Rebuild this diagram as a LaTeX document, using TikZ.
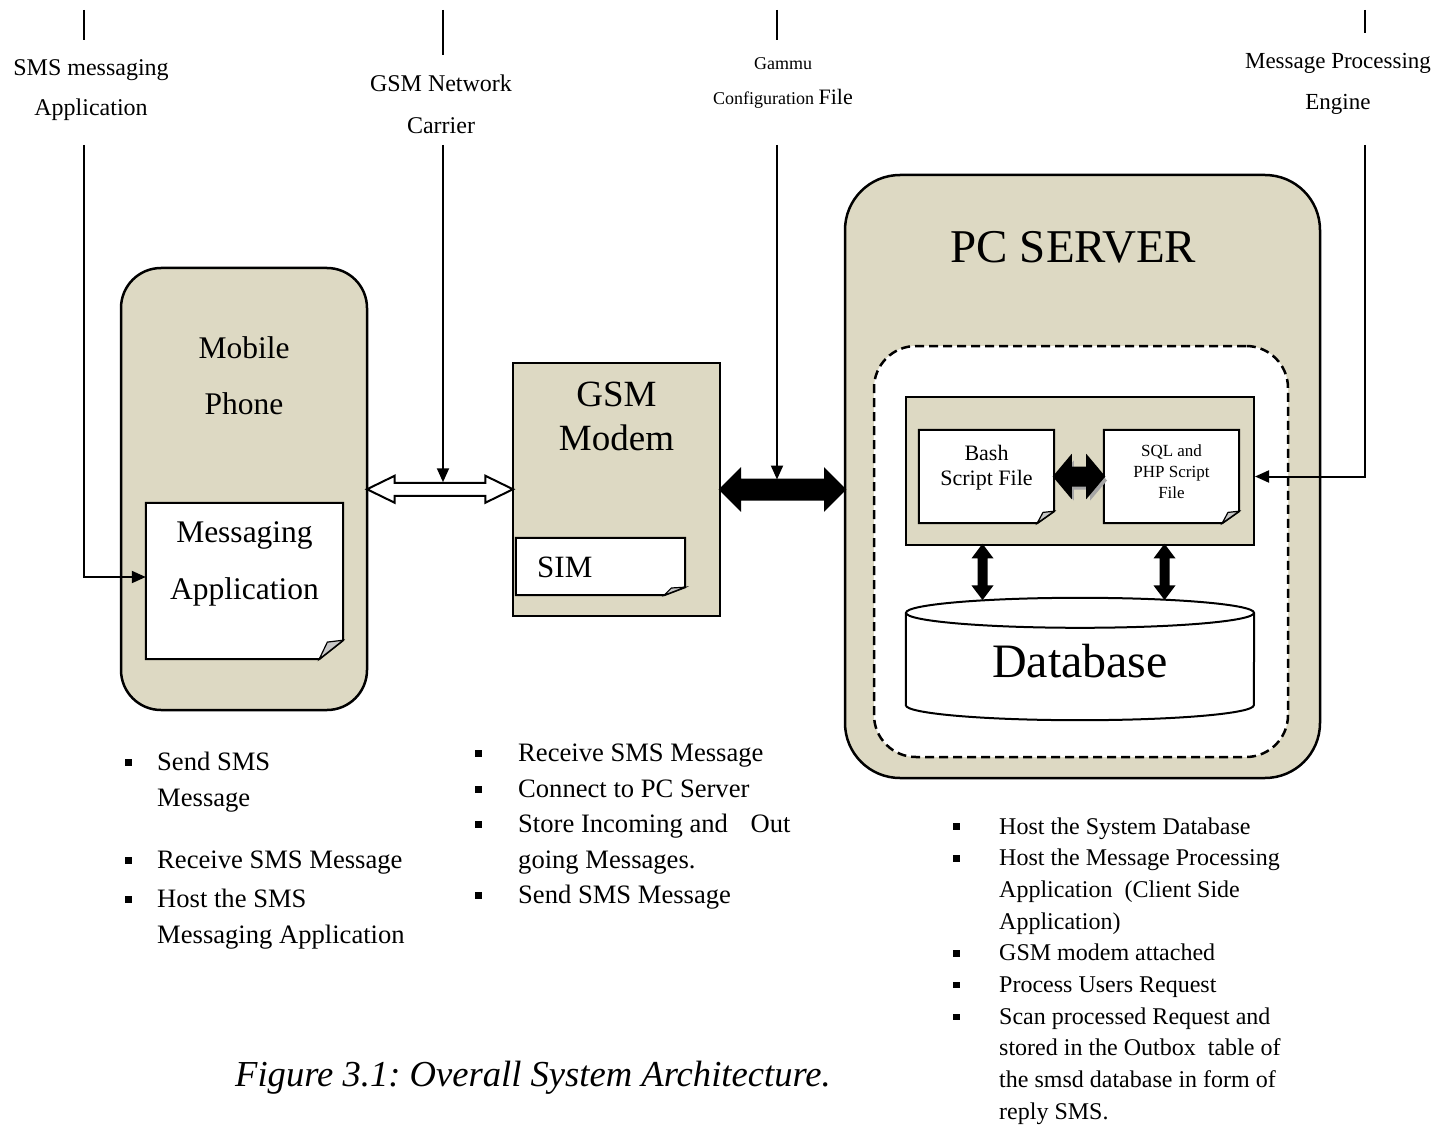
\documentclass[tikz,border=0pt]{standalone}
\usepackage{fontspec}
\setmainfont{Liberation Serif}
\usepackage{tikz}
\usetikzlibrary{positioning,calc,arrows.meta,shapes.arrows,shadows}

\definecolor{panel}{RGB}{221,217,195}
\definecolor{curlgray}{RGB}{200,200,200}
\newcommand{\fsz}[2]{\fontsize{#1}{#2}\selectfont}
\newcommand{\sqbul}{\rule[0.17em]{0.27em}{0.27em}}
\frenchspacing
%% page with a turned-up corner, drawn round an empty node
\newcommand{\pagecurl}[3]{%
    \filldraw[fill=white,line width=2pt] (#1.north west) -- (#1.north east)
        -- ($(#1.south east)+(0,-#3)$) -- ($(#1.south east)+(-#2,0)$)
        -- (#1.south west) -- cycle;
    \filldraw[fill=curlgray,line width=1.2pt] ($(#1.south east)+(-#2,0)$)
        -- ($(#1.south east)+(-0.66*#2,-0.9*#3)$) -- ($(#1.south east)+(0,-#3)$) -- cycle;}

\begin{document}
    \begin{tikzpicture}[x=1pt,y=-1pt,
        panelbox/.style={draw,fill=panel,line width=2.5pt},
        docbox/.style={inner sep=0pt},
        boxtext/.style={inner sep=0pt,align=center},
        feed/.style={line width=2pt},
        feedtip/.style={feed,-{Triangle[length=14pt,width=12pt]}},
        blocklink/.style={double arrow,draw,line width=2pt,inner xsep=0pt},
        bullets/.style={inner sep=0pt,anchor=base west}]
        \useasboundingbox (0,0) rectangle (1441,1126);

        %% the three machines
        \node[panelbox,rounded corners=40pt,minimum width=246pt,minimum height=442pt] (phone) at (244,489) {};
        \node[panelbox,minimum width=207pt,minimum height=253pt] (gsm) at (616.5,489.5) {};
        \node[panelbox,rounded corners=55pt,minimum width=475pt,minimum height=603pt] (server) at (1082.5,476.5) {};
        \node[draw,fill=white,dash pattern=on 9pt off 5pt,line width=2.5pt,rounded corners=42pt,
            minimum width=414pt,minimum height=411pt] (zone) at (1081,551.5) {};
        \node[panelbox,line width=2pt,minimum width=348pt,minimum height=148pt] (scripts) at (1080,471) {};

        \node[docbox,minimum width=197pt,minimum height=156pt] (msgdoc) at (244.5,581) {};
        \node[docbox,minimum width=169pt,minimum height=57pt] (simdoc) at (600.5,566.5) {};
        \node[docbox,minimum width=135pt,minimum height=93pt] (bashdoc) at (986.5,476.5) {};
        \node[docbox,minimum width=135pt,minimum height=93pt] (sqldoc) at (1171.5,476.5) {};
        \pagecurl{msgdoc}{24}{19}
        \pagecurl{simdoc}{21}{8}
        \pagecurl{bashdoc}{17}{12}
        \pagecurl{sqldoc}{17}{12}

        \node[docbox,minimum width=348pt,minimum height=122pt] (db) at (1080,659) {};
        \filldraw[fill=white,line width=2pt] ($(db.north west)+(0,15)$) -- ($(db.south west)+(0,-15)$)
            arc[start angle=180,end angle=360,x radius=174pt,y radius=15pt] -- ($(db.north east)+(0,15)$);
        \filldraw[fill=white,line width=2pt] ($(db.north)+(0,15)$) ellipse[x radius=174pt,y radius=15pt];

        \node[boxtext,font=\fsz{31.5}{56},below=70pt of phone.north] (phonetxt) {Mobile\\Phone};
        \node[boxtext,font=\fsz{31.5}{57},below=19pt of msgdoc.north] (msgtxt) {Messaging\\Application};
        \node[boxtext,font=\fsz{37}{44},below=20pt of gsm.north] (gsmtxt) {GSM\\Modem};
        \node[boxtext,font=\fsz{31}{31},anchor=west] (simtxt) at (537,567) {SIM};
        \node[boxtext,font=\fsz{47}{47},below=57pt of server.north,xshift=-9pt] (srvtxt) {PC SERVER};
        \node[boxtext,font=\fsz{22}{25},below=15pt of bashdoc.north] (bashtxt) {Bash\\Script File};
        \node[boxtext,font=\fsz{17}{21},below=15pt of sqldoc.north] (sqltxt) {SQL and\\PHP Script\\File};
        \node[boxtext,font=\fsz{48}{48}] (dbtxt) at ($(db.center)+(0,2)$) {Database};

        %% block links
        \node[blocklink,fill=white,inner ysep=5.5pt,minimum height=146pt,minimum width=25pt,
            double arrow head extend=7pt,double arrow tip angle=52] (netlink) at ($(phone.east)!0.5!(gsm.west)$) {};
        \node[blocklink,fill=black,inner ysep=9pt,minimum height=125pt,minimum width=38pt,
            double arrow head extend=10pt,double arrow tip angle=90] (srvlink) at ($(gsm.east)!0.5!(gsm.east -| server.west)$) {};
        \node[blocklink,fill=black,inner ysep=8pt,minimum height=50pt,minimum width=38pt,
            double arrow head extend=11pt,double arrow tip angle=100,
            drop shadow={shadow xshift=3pt,shadow yshift=-4pt,fill=black!35,opacity=1}] (scriptlink) at ($(bashdoc.east)!0.5!(sqldoc.west)$) {};
        \node[blocklink,fill=black,rotate=90,inner ysep=3pt,minimum height=53pt,minimum width=16pt,
            double arrow head extend=5pt,double arrow tip angle=74] (bashdblink)
            at ($(scripts.south -| bashdoc.south)!0.5!(db.north -| bashdoc.south)+(-4,0)$) {};
        \node[blocklink,fill=black,rotate=90,inner ysep=3pt,minimum height=53pt,minimum width=16pt,
            double arrow head extend=5pt,double arrow tip angle=74] (sqldblink)
            at ($(scripts.south -| sqldoc.south)!0.5!(db.north -| sqldoc.south)+(-7,0)$) {};

        %% feeds from the top
        \node[boxtext,font=\fsz{24}{40}] (smslbl) at (91,90.3) {SMS messaging\\Application};
        \node[boxtext,font=\fsz{24}{42}] (netlbl) at (441,104) {GSM Network\\Carrier};
        \node[boxtext,font=\fsz{18}{35.6}] (gammulbl) at (783,82.8) {Gammu\\Configuration {\fsz{22}{35.6}File}};
        \node[boxtext,font=\fsz{23}{41}] (mpelbl) at (1338,83.8) {Message Processing\\Engine};
        \coordinate (smstop) at (84,10);
        \coordinate (nettop) at (443,10);
        \coordinate (gammutop) at (777,10);
        \coordinate (mpetop) at (1365,10);
        \draw[feed] (smstop) -- ++(0,30);
        \draw[feed] (nettop) -- ++(0,45);
        \draw[feed] (gammutop) -- ++(0,30);
        \draw[feed] (mpetop) -- ++(0,23);
        \draw[feedtip] (smstop) ++(0,135) |- ($(msgdoc.west)+(0,-4)$);
        \draw[feedtip] (nettop) ++(0,135) -- ($(nettop |- netlink.center)+(0,-7)$);
        \draw[feedtip] (gammutop) ++(0,135) -- ($(gammutop |- srvlink.center)+(0,-10)$);
        \draw[feedtip] (mpetop) ++(0,135) |- (sqldoc -| scripts.east);

        %% what each part does
        \node[bullets,font=\fsz{26.6}{36}] (phonelist) at (125,770.8) {\begin{tabular}[t]{@{}p{32pt}@{}l@{}}
            \sqbul & Send SMS\\
                   & Message\\[26pt]
            \sqbul & Receive SMS Message\\[3pt]
            \sqbul & Host the SMS\\
                   & Messaging Application
        \end{tabular}};
        \node[bullets,font=\fsz{26.6}{35.5}] (gsmlist) at (475,761.8) {\begin{tabular}[t]{@{}p{43pt}@{}l@{}}
            \sqbul & Receive SMS Message\\
            \sqbul & Connect to PC Server\\
            \sqbul & Store Incoming and\hspace{0.6em} Out\\
                   & going Messages.\\
            \sqbul & Send SMS Message
        \end{tabular}};
        \node[bullets,font=\fsz{24}{31.7}] (srvlist) at (953,834) {\begin{tabular}[t]{@{}p{46pt}@{}l@{}}
            \sqbul & Host the System Database\\
            \sqbul & Host the Message Processing\\
                   & Application\ \ (Client Side\\
                   & Application)\\
            \sqbul & GSM modem attached\\
            \sqbul & Process Users Request\\
            \sqbul & Scan processed Request and\\
                   & stored in the Outbox\ \ table of\\
                   & the smsd database in form of\\
                   & reply SMS.
        \end{tabular}};

        \node[inner sep=0pt,anchor=base,font=\fsz{36.6}{40}\itshape] (caption) at (533,1086) {Figure 3.1: Overall System Architecture.};
    \end{tikzpicture}
\end{document}
